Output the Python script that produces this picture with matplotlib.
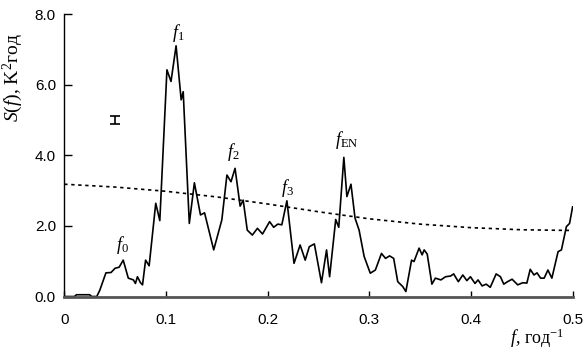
import numpy as np
import matplotlib.pyplot as plt

plt.rcParams['mathtext.fontset'] = 'custom'
plt.rcParams['mathtext.rm'] = 'Liberation Serif'
plt.rcParams['mathtext.it'] = 'Liberation Serif:italic'

# spectrum S(f)
freq = [0.000, 0.010, 0.012, 0.025, 0.027, 0.032, 0.035, 0.041, 0.046, 0.050,
        0.054, 0.058, 0.063, 0.068, 0.070, 0.072, 0.075, 0.077, 0.080, 0.0835,
        0.090, 0.094, 0.101, 0.105, 0.110, 0.115, 0.117, 0.123, 0.128, 0.134,
        0.138, 0.147, 0.155, 0.160, 0.164, 0.168, 0.173, 0.176, 0.180, 0.185,
        0.190, 0.195, 0.202, 0.206, 0.210, 0.214, 0.219, 0.226, 0.232, 0.237,
        0.241, 0.246, 0.253, 0.258, 0.261, 0.267, 0.270, 0.275, 0.278, 0.282,
        0.286, 0.290, 0.295, 0.301, 0.306, 0.312, 0.316, 0.320, 0.324, 0.328,
        0.333, 0.336, 0.3416, 0.344, 0.349, 0.352, 0.354, 0.357, 0.3616, 0.365,
        0.3705, 0.375, 0.380, 0.383, 0.3876, 0.392, 0.396, 0.3995, 0.404, 0.407,
        0.411, 0.415, 0.419, 0.4248, 0.429, 0.4323, 0.436, 0.4405, 0.446, 0.451,
        0.455, 0.4583, 0.462, 0.465, 0.4685, 0.472, 0.4757, 0.4796, 0.4857, 0.489,
        0.4939, 0.497, 0.500]
spec = [0.0, 0.0, 0.05, 0.05, 0.0, 0.0, 0.18, 0.67, 0.68, 0.80,
        0.83, 1.03, 0.52, 0.47, 0.37, 0.56, 0.39, 0.33, 1.03, 0.87,
        2.64, 2.15, 6.42, 6.09, 7.10, 5.57, 5.80, 2.07, 3.22, 2.31,
        2.37, 1.32, 2.17, 3.44, 3.25, 3.63, 2.56, 2.73, 1.88, 1.74,
        1.93, 1.77, 2.12, 1.96, 2.05, 2.03, 2.71, 0.94, 1.46, 1.03,
        1.41, 1.49, 0.39, 1.32, 0.56, 2.18, 1.96, 3.94, 2.83, 3.18,
        2.22, 1.88, 1.13, 0.66, 0.75, 1.22, 1.08, 1.15, 1.08, 0.42,
        0.28, 0.14, 1.03, 0.99, 1.37, 1.18, 1.32, 1.20, 0.35, 0.52,
        0.47, 0.56, 0.58, 0.64, 0.42, 0.61, 0.45, 0.56, 0.37, 0.47,
        0.30, 0.35, 0.26, 0.64, 0.56, 0.35, 0.42, 0.49, 0.33, 0.39,
        0.38, 0.77, 0.61, 0.67, 0.52, 0.52, 0.75, 0.52, 1.27, 1.32,
        1.98, 2.07, 2.54]

# dotted background (red noise) curve
bg_freq = [0.0, 0.05, 0.1, 0.15, 0.2, 0.25, 0.3, 0.35, 0.4, 0.45, 0.5]
bg_spec = [3.18, 3.10, 2.98, 2.82, 2.62, 2.40, 2.20, 2.05, 1.95, 1.89, 1.87]

# peak labels
peak_lab = [r'$f_0$', r'$f_1$', r'$f_2$', r'$f_3$', r'$f_{\rm EN}$']
peak_x = [0.057, 0.112, 0.166, 0.220, 0.278]
peak_y = [1.46, 7.46, 4.10, 3.07, 4.43]

fig = plt.figure(figsize=(5.84, 3.54), dpi=100)
ax = fig.add_axes([0.110, 0.1624, 0.8705, 0.798])

ax.plot(bg_freq, bg_spec, color='k', lw=1.2, dashes=(2, 2.2))
ax.plot(freq, spec, color='k', lw=1.2)
# confidence interval mark
ax.errorbar([0.05], [5.0], yerr=[0.11], color='k', lw=1.2, capsize=3.5, capthick=1.2)

for lab, x, y in zip(peak_lab, peak_x, peak_y):
    ax.text(x, y, lab, fontsize=13, ha='center', va='center')

ax.set_xlim(0, 0.5)
ax.set_ylim(0, 8)
ax.set_xticks([0, 0.1, 0.2, 0.3, 0.4, 0.5])
ax.set_xticklabels(['0', '0.1', '0.2', '0.3', '0.4', '0.5'])
ax.set_yticks([0, 2, 4, 6, 8])
ax.set_yticklabels(['0.0', '2.0', '4.0', '6.0', '8.0'])
for t in ax.get_xticklabels() + ax.get_yticklabels():
    t.set_family('Liberation Sans')
    t.set_fontsize(11)
ax.tick_params(axis='y', direction='in', length=6, width=1, pad=6)
ax.tick_params(axis='x', direction='in', length=4, width=1, pad=12)

ax.spines['top'].set_visible(False)
ax.spines['right'].set_visible(False)
ax.spines['left'].set_linewidth(1)
ax.spines['bottom'].set_linewidth(2)
ax.spines['bottom'].set_color('#555555')

ax.set_ylabel(r'$S(f)$, K$^2$год', family='Liberation Serif', fontsize=14)
ax.yaxis.set_label_coords(-0.078, 0.775)
ax.set_xlabel(r'$f$, год$^{-1}$', family='Liberation Serif', fontsize=13)
ax.xaxis.set_label_coords(0.93, -0.105)

fig.savefig('out.png', dpi=100)
